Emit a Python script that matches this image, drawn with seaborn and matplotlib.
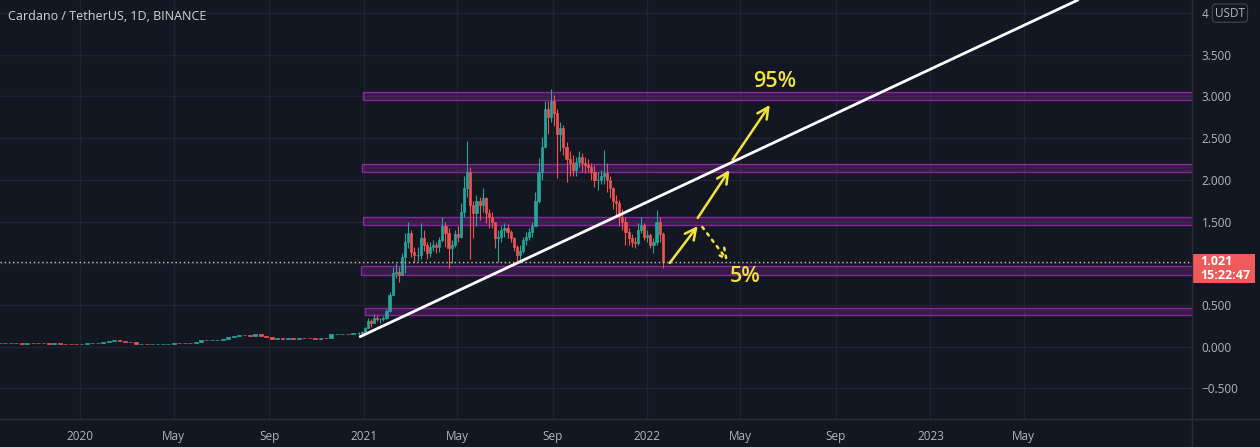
import matplotlib
matplotlib.use("Agg")
import matplotlib.pyplot as plt
import matplotlib.dates as mdates
from matplotlib.lines import Line2D
from matplotlib.patches import Rectangle
import numpy as np
import pandas as pd
import seaborn as sns

BG = "#131722"
GRID = "#1f2330"
TEXT = "#b2b5be"
UP = "#26a69a"
DOWN = "#ef5350"
YELLOW = "#f2e43c"
PURPLE = "#9c27b0"

# weekly closes, 2019-09-20 .. 2020-12-18 (flat part before the rally)
early_start = "2019-09-20"
early_close = [
    0.047, 0.040, 0.040, 0.039, 0.038, 0.044, 0.043, 0.042, 0.040, 0.037,
    0.039, 0.038, 0.035, 0.034, 0.033, 0.036, 0.041, 0.048, 0.050, 0.054,
    0.065, 0.085, 0.070, 0.060, 0.055, 0.030, 0.032, 0.030, 0.030, 0.033,
    0.034, 0.037, 0.049, 0.048, 0.047, 0.050, 0.058, 0.083, 0.076, 0.077,
    0.080, 0.095, 0.118, 0.128, 0.140, 0.145, 0.130, 0.148, 0.125, 0.115,
    0.097, 0.105, 0.095, 0.100, 0.098, 0.107, 0.106, 0.101, 0.093, 0.105,
    0.102, 0.150, 0.150, 0.155, 0.150, 0.170,
]

# 4-day bars, 2020-12-25 .. 2022-01-21
late_start = "2020-12-25"
late_close = [
    0.17, 0.18, 0.22, 0.31, 0.29, 0.35, 0.33, 0.33, 0.34, 0.43,
    0.62, 0.88, 0.90, 0.86, 1.07, 1.25, 1.36, 1.13, 1.10, 1.10,
    1.30, 1.22, 1.12, 1.20, 1.22, 1.20, 1.28, 1.45, 1.36, 1.18,
    1.22, 1.35, 1.32, 1.62, 1.90, 2.10, 1.70, 1.60, 1.75, 1.70,
    1.78, 1.60, 1.55, 1.50, 1.30, 1.32, 1.40, 1.42, 1.38, 1.30,
    1.20, 1.10, 1.15, 1.28, 1.32, 1.38, 1.45, 1.75, 2.10, 2.40,
    2.85, 2.75, 2.95, 2.80, 2.55, 2.62, 2.40, 2.25, 2.20, 2.12,
    2.22, 2.28, 2.20, 2.18, 2.15, 2.10, 2.00, 2.00, 2.05, 2.08,
    2.00, 1.90, 1.75, 1.72, 1.55, 1.50, 1.38, 1.30, 1.25, 1.24,
    1.40, 1.46, 1.32, 1.34, 1.22, 1.25, 1.50, 1.35, 1.021,
]
late_high = [
    0.18, 0.19, 0.24, 0.34, 0.33, 0.39, 0.38, 0.35, 0.37, 0.45,
    0.66, 0.95, 1.00, 0.96, 1.12, 1.36, 1.49, 1.40, 1.20, 1.20,
    1.48, 1.40, 1.25, 1.25, 1.28, 1.26, 1.32, 1.56, 1.50, 1.42,
    1.28, 1.40, 1.45, 1.72, 2.05, 2.47, 2.15, 1.75, 1.82, 1.80,
    1.90, 1.80, 1.65, 1.62, 1.50, 1.40, 1.45, 1.48, 1.47, 1.40,
    1.32, 1.22, 1.22, 1.32, 1.38, 1.42, 1.50, 1.85, 2.26, 2.52,
    2.95, 2.95, 3.09, 3.02, 2.85, 2.70, 2.66, 2.45, 2.35, 2.30,
    2.28, 2.35, 2.32, 2.28, 2.25, 2.20, 2.18, 2.10, 2.12, 2.36,
    2.20, 2.05, 1.92, 1.82, 1.76, 1.65, 1.55, 1.42, 1.35, 1.32,
    1.48, 1.56, 1.48, 1.40, 1.36, 1.30, 1.64, 1.55, 1.38,
]
late_low = [
    0.14, 0.16, 0.17, 0.22, 0.24, 0.29, 0.31, 0.28, 0.31, 0.33,
    0.42, 0.62, 0.82, 0.78, 0.86, 0.88, 1.18, 1.08, 1.02, 1.03,
    1.05, 1.15, 1.05, 1.08, 1.15, 1.12, 1.14, 1.26, 1.20, 0.94,
    1.00, 1.20, 1.25, 1.30, 1.55, 1.80, 1.05, 1.30, 1.45, 1.52,
    1.62, 1.48, 1.42, 1.42, 1.18, 1.02, 1.25, 1.32, 1.30, 1.25,
    1.15, 1.02, 1.00, 1.12, 1.22, 1.28, 1.32, 1.45, 1.72, 2.00,
    2.40, 2.55, 2.70, 2.65, 2.02, 2.35, 2.30, 1.98, 2.05, 2.05,
    2.05, 2.15, 2.10, 2.08, 2.10, 2.00, 1.92, 1.88, 1.95, 1.95,
    1.85, 1.78, 1.65, 1.58, 1.45, 1.40, 1.22, 1.22, 1.20, 1.18,
    1.22, 1.36, 1.28, 1.26, 1.18, 1.12, 1.22, 1.25, 0.94,
]

last_price = 1.021
countdown = "15:22:47"

# support / resistance boxes
zone_start = ["2020-12-31", "2020-12-29", "2020-12-31", "2020-12-28", "2021-01-02"]
zone_low = [2.96, 2.10, 1.46, 0.862, 0.38]
zone_high = [3.05, 2.19, 1.56, 0.962, 0.46]

trend_dates = ["2020-12-27", "2023-07-10"]
trend_values = [0.12, 4.157]

# solid yellow arrows (tail -> head)
arrow_tail_dates = ["2022-01-30", "2022-03-07", "2022-04-21"]
arrow_tail_values = [1.004, 1.543, 2.239]
arrow_head_dates = ["2022-03-07", "2022-04-17", "2022-06-08"]
arrow_head_values = [1.447, 2.119, 2.899]
# dotted arrow
dotted_dates = ["2022-03-13", "2022-04-15"]
dotted_values = [1.435, 1.028]

label_texts = ["95%", "5%"]
label_dates = ["2022-06-14", "2022-05-07"]
label_values = [3.174, 0.836]

x_tick_dates = ["2020-01-01", "2020-05-01", "2020-09-01", "2021-01-01", "2021-05-01",
                "2021-09-01", "2022-01-01", "2022-05-01", "2022-09-01", "2023-01-01",
                "2023-05-01"]
x_tick_labels = ["2020", "May", "Sep", "2021", "May", "Sep", "2022", "May", "Sep",
                 "2023", "May"]
y_ticks = [-0.5, 0.0, 0.5, 1.0, 1.5, 2.0, 2.5, 3.0, 3.5, 4.0]


def price_label(v):
    if v == 4.0:
        return "4"
    if v == 1.0:
        return ""  # hidden behind the last-price badge
    s = f"{abs(v):.3f}"
    return "\u2212" + s if v < 0 else s


def draw_candles(ax, dates, opens, closes, highs, lows, width):
    x = mdates.date2num(dates)
    colors = np.where(closes >= opens, UP, DOWN)
    ax.vlines(x, lows, highs, colors=colors, lw=0.8, zorder=3)
    ax.bar(x, closes - opens, bottom=opens, width=width, color=colors,
           edgecolor=colors, lw=0.5, zorder=3)


sns.set_theme(style="dark", rc={
    "figure.facecolor": BG,
    "axes.facecolor": BG,
    "axes.edgecolor": BG,
    "grid.color": GRID,
    "text.color": TEXT,
    "xtick.color": TEXT,
    "ytick.color": TEXT,
})
plt.rcParams["font.family"] = ["Open Sans", "DejaVu Sans"]

fig = plt.figure(figsize=(12.6, 4.47), dpi=100)
ax = fig.add_axes([0, 28 / 447, 1192 / 1260, 419 / 447])

e_close = np.array(early_close)
e_open = np.r_[e_close[0], e_close[:-1]]
e_dates = pd.date_range(early_start, periods=len(e_close), freq="7D")
draw_candles(ax, e_dates, e_open, e_close, np.maximum(e_open, e_close),
             np.minimum(e_open, e_close), 5)

l_close = np.array(late_close)
l_open = np.r_[e_close[-1], l_close[:-1]]
l_dates = pd.date_range(late_start, periods=len(l_close), freq="4D")
draw_candles(ax, l_dates, l_open, l_close, np.array(late_high), np.array(late_low), 2.8)

far_right = mdates.date2num(pd.Timestamp("2025-01-01"))
for start, lo, hi in zip(zone_start, zone_low, zone_high):
    x0 = mdates.date2num(pd.Timestamp(start))
    ax.add_patch(Rectangle((x0, lo), far_right - x0, hi - lo, facecolor=PURPLE,
                           alpha=0.28, lw=0, zorder=2))
    ax.add_patch(Rectangle((x0, lo), far_right - x0, hi - lo, facecolor="none",
                           edgecolor=PURPLE, lw=1.0, alpha=0.85, zorder=2))

ax.plot(pd.to_datetime(trend_dates), trend_values, color="white", lw=2.0,
        solid_capstyle="round", zorder=4)

ax.axhline(last_price, color="#e8b4b4", lw=1, ls=(0, (1, 2)), zorder=4)

for td, tv, hd, hv in zip(arrow_tail_dates, arrow_tail_values,
                          arrow_head_dates, arrow_head_values):
    ax.annotate("", xy=(pd.Timestamp(hd), hv), xytext=(pd.Timestamp(td), tv),
                arrowprops=dict(arrowstyle="->", color=YELLOW, lw=1.8,
                                mutation_scale=20, shrinkA=0, shrinkB=0), zorder=5)
ax.annotate("", xy=(pd.Timestamp(dotted_dates[1]), dotted_values[1]),
            xytext=(pd.Timestamp(dotted_dates[0]), dotted_values[0]),
            arrowprops=dict(arrowstyle="->", color=YELLOW, lw=1.8, ls=(0, (1, 2.2)),
                            mutation_scale=18, shrinkA=0, shrinkB=0), zorder=5)
for txt, d, v in zip(label_texts, label_dates, label_values):
    ax.text(pd.Timestamp(d), v, txt, color=YELLOW, fontsize=15.5, fontweight="semibold",
            ha="center", va="center", zorder=6)

ax.set_xlim(pd.Timestamp("2019-09-20"), pd.Timestamp("2023-12-04"))
ax.set_ylim(-0.867, 4.157)
ax.set_xticks(pd.to_datetime(x_tick_dates))
ax.set_xticklabels(x_tick_labels, fontsize=8.5)
ax.yaxis.tick_right()
ax.set_yticks(y_ticks)
ax.set_yticklabels([price_label(v) for v in y_ticks], fontsize=8.5)
ax.tick_params(axis="x", length=0, pad=8)
ax.tick_params(axis="y", length=0, pad=7)
ax.grid(True, color=GRID, lw=1)
for s in ax.spines.values():
    s.set_visible(False)

# pane separators
fig.add_artist(Line2D([1192 / 1260] * 2, [0, 1], color="#2a2e39", lw=1))
fig.add_artist(Line2D([0, 1], [28 / 447] * 2, color="#2a2e39", lw=1))

trans = ax.get_yaxis_transform()
ax.annotate("USDT", xy=(1.0, 4.0), xycoords=trans, xytext=(16.5, 0),
            textcoords="offset points", ha="left", va="center", fontsize=8.5,
            color=TEXT, annotation_clip=False,
            bbox=dict(boxstyle="round,pad=0.22,rounding_size=0.3", fc=BG, ec="#434651", lw=0.8))

# last-price badge: 63 px wide, 29 px tall in the right pane
px_y = (4.157 + 0.867) / 419
ax.add_patch(Rectangle((1.0, last_price - 21 * px_y), 63 / 1192, 29 * px_y,
                       transform=trans, facecolor="#f05a5a", lw=0, clip_on=False, zorder=6))
ax.annotate(f"{last_price:.3f}\n{countdown}", xy=(1.0, last_price - 7 * px_y),
            xycoords=trans, xytext=(6, 0), textcoords="offset points", ha="left",
            va="center", fontsize=9, fontweight="bold", color="white",
            linespacing=1.15, annotation_clip=False, zorder=7)

fig.text(8 / 1260, 1 - 17 / 447, "Cardano / TetherUS, 1D, BINANCE", fontsize=9,
         color="#d1d4dc", ha="left", va="center")

fig.savefig("out.png", dpi=100, facecolor=BG)
